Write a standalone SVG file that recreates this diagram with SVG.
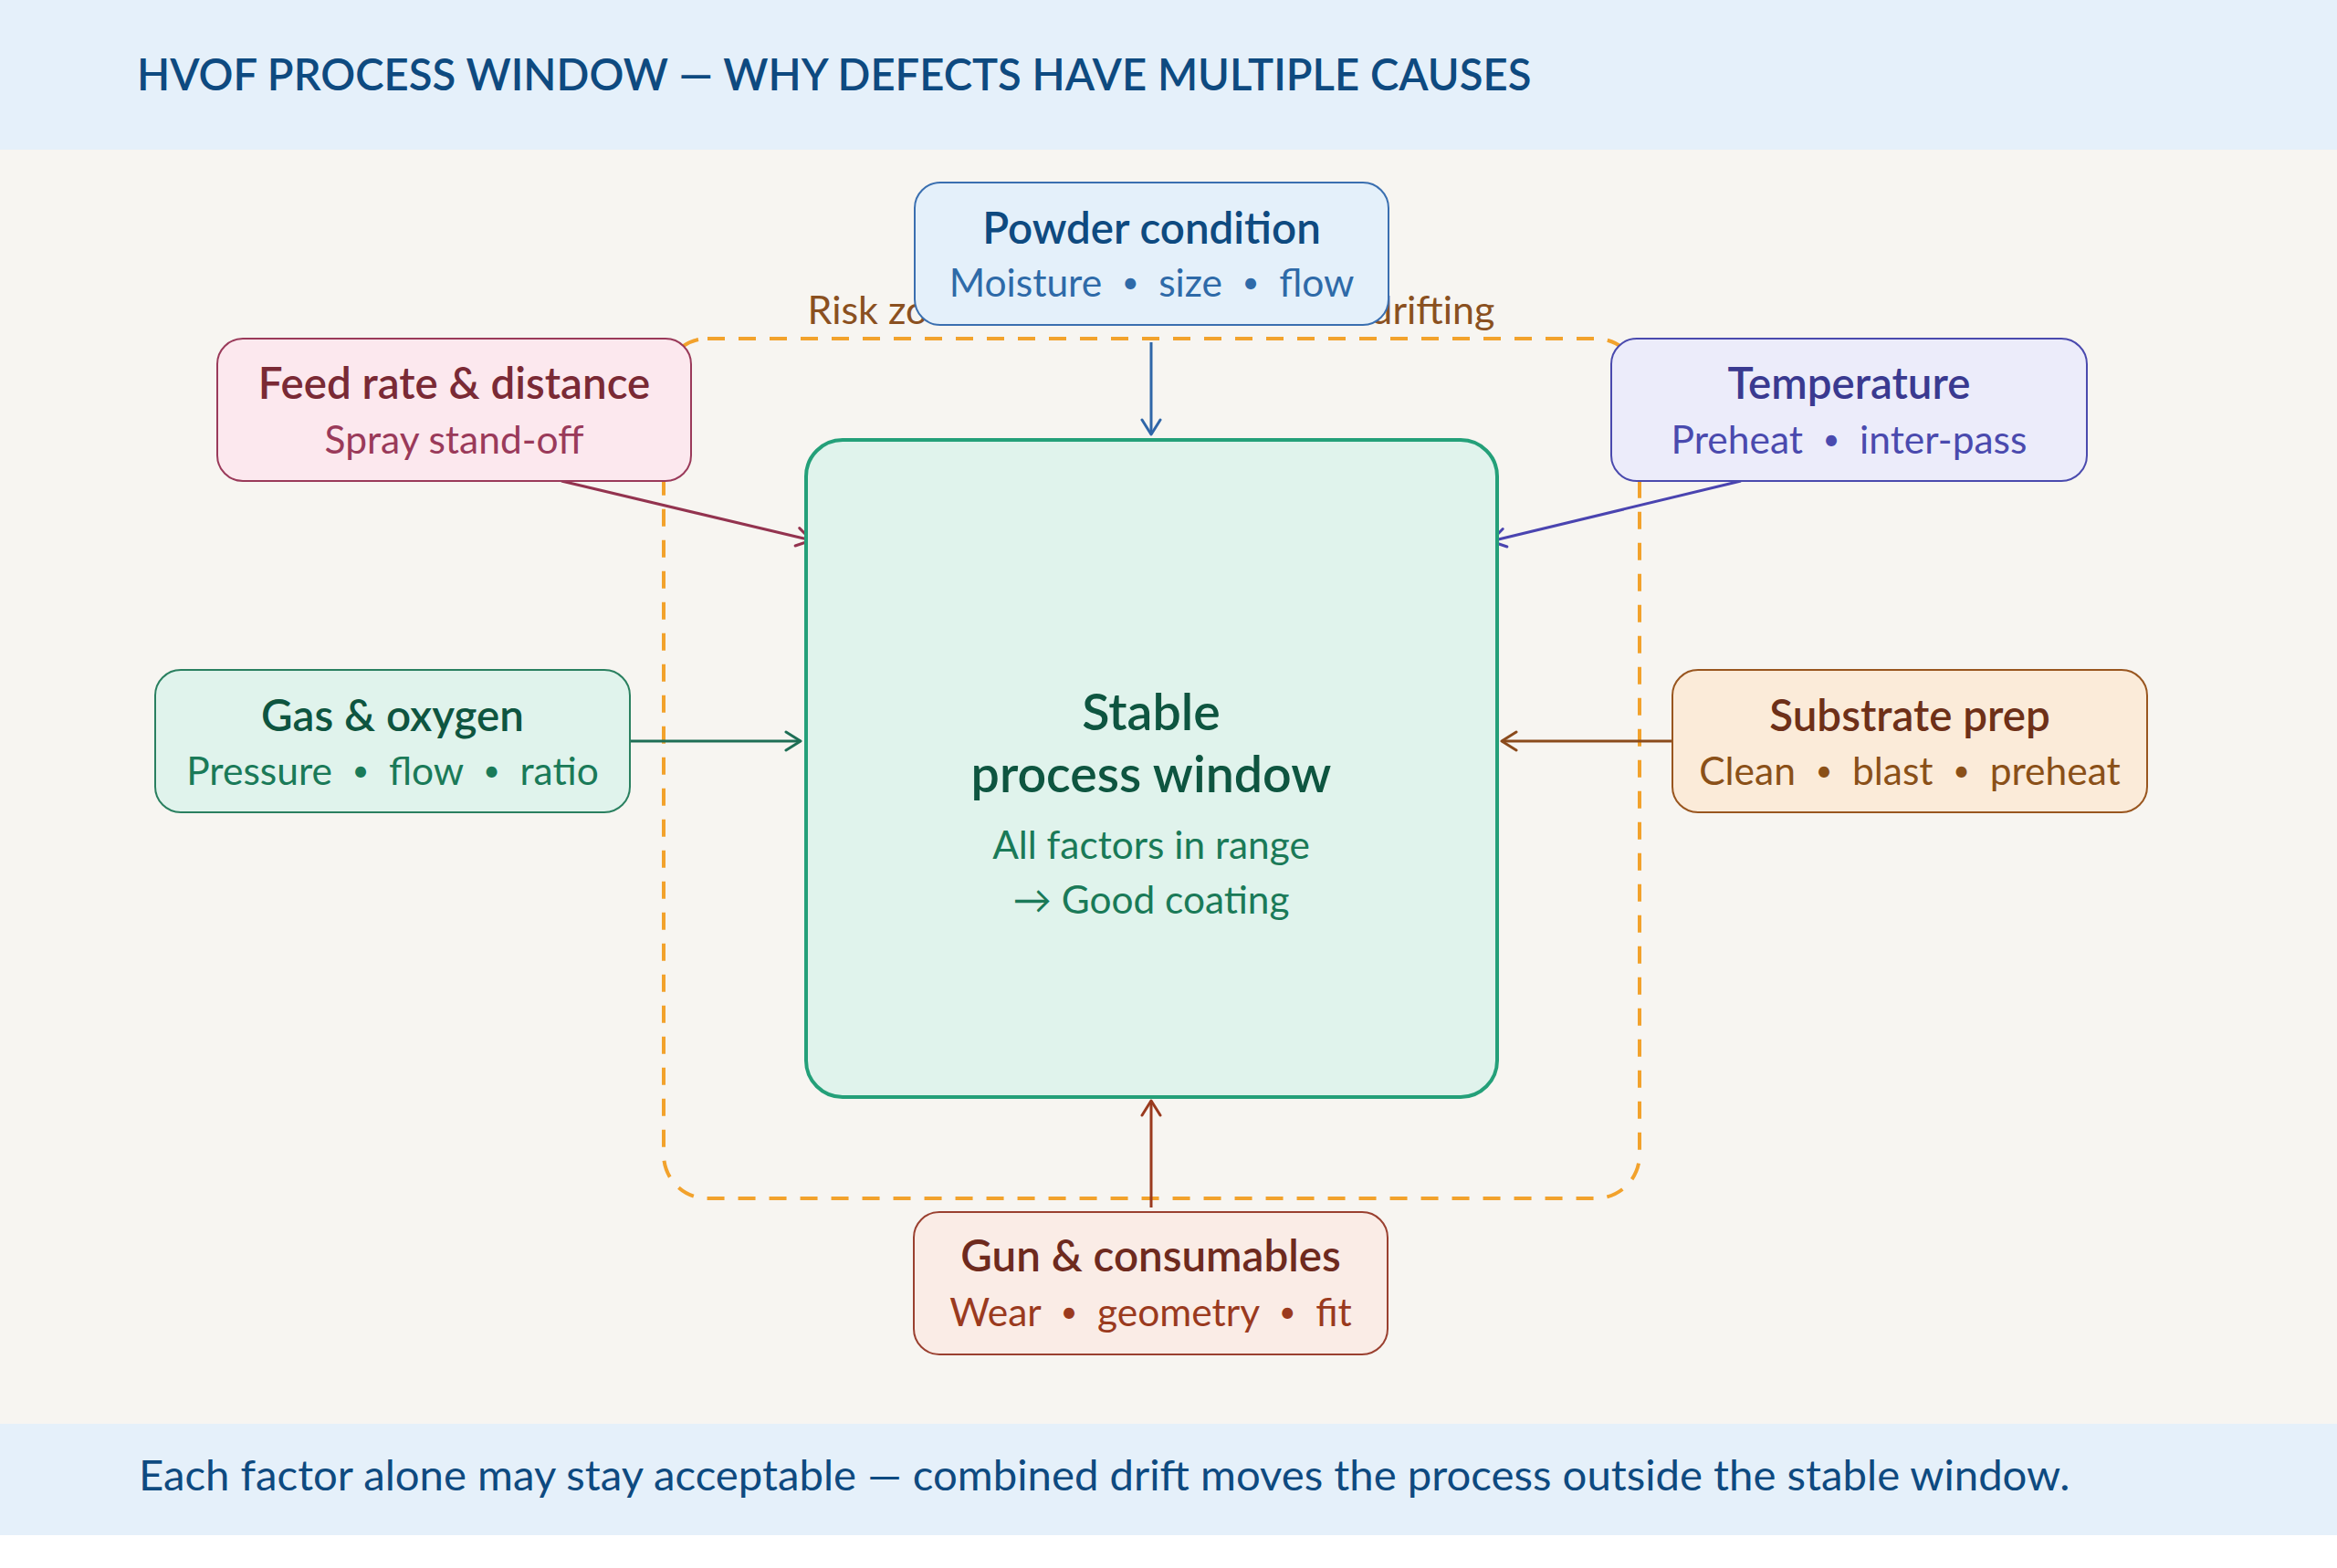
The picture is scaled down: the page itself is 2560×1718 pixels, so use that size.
<svg xmlns="http://www.w3.org/2000/svg" width="2560" height="1718" viewBox="0 0 2560 1718">
<defs>
<style>
text{font-family:Lato,"Noto Sans","Liberation Sans",sans-serif;text-anchor:middle;white-space:pre}
.nt{font-size:47.5px;font-weight:600}
.ns{font-size:42.5px;font-weight:400}
.b{font-size:32px;baseline-shift:4px}
.box{stroke-width:2}
.conn{fill:none;stroke-width:3}
.ah{fill:none;stroke-width:3;stroke-linecap:round;stroke-linejoin:round}
</style>
<marker id="mPow" viewBox="-18 -12 20 24" refX="0" refY="0" markerWidth="20" markerHeight="24" markerUnits="userSpaceOnUse" orient="auto"><path class="ah" d="M-16,-10 L0,0 L-16,10" stroke="#2F66A8"/></marker>
<marker id="mFeed" viewBox="-18 -12 20 24" refX="0" refY="0" markerWidth="20" markerHeight="24" markerUnits="userSpaceOnUse" orient="auto"><path class="ah" d="M-16,-10 L0,0 L-16,10" stroke="#93334F"/></marker>
<marker id="mTemp" viewBox="-18 -12 20 24" refX="0" refY="0" markerWidth="20" markerHeight="24" markerUnits="userSpaceOnUse" orient="auto"><path class="ah" d="M-16,-10 L0,0 L-16,10" stroke="#4A44B0"/></marker>
<marker id="mGas" viewBox="-18 -12 20 24" refX="0" refY="0" markerWidth="20" markerHeight="24" markerUnits="userSpaceOnUse" orient="auto"><path class="ah" d="M-16,-10 L0,0 L-16,10" stroke="#1E6E55"/></marker>
<marker id="mSub" viewBox="-18 -12 20 24" refX="0" refY="0" markerWidth="20" markerHeight="24" markerUnits="userSpaceOnUse" orient="auto"><path class="ah" d="M-16,-10 L0,0 L-16,10" stroke="#8A4A1C"/></marker>
<marker id="mGun" viewBox="-18 -12 20 24" refX="0" refY="0" markerWidth="20" markerHeight="24" markerUnits="userSpaceOnUse" orient="auto"><path class="ah" d="M-16,-10 L0,0 L-16,10" stroke="#9A3A1E"/></marker>
</defs>

<rect x="0" y="0" width="2560" height="1718" fill="#FFFFFF"/>
<rect x="0" y="0" width="2560" height="1682" fill="#F7F5F1"/>
<rect x="0" y="0" width="2560" height="164" fill="#E5F0FA"/>
<text x="150" y="99" style="text-anchor:start;font-size:47.2px;font-weight:600" fill="#0E4A80">HVOF PROCESS WINDOW — WHY DEFECTS HAVE MULTIPLE CAUSES</text>
<rect x="0" y="1560" width="2560" height="122" fill="#E5F0FA"/>
<text x="152" y="1633" style="text-anchor:start;font-size:47.3px" fill="#0E4A80">Each factor alone may stay acceptable — combined drift moves the process outside the stable window.</text>

<g id="risk-zone">
<rect x="727" y="371" width="1069" height="942" rx="48" fill="none" stroke="#F2A22C" stroke-width="4" stroke-dasharray="19 15"/>
<text x="1261" y="355" style="font-size:43px" fill="#8A5020">Risk zone — one or more factors drifting</text>
</g>

<g id="connectors">
<path class="conn" d="M1261,375 L1261,476" stroke="#2F66A8" marker-end="url(#mPow)"/>
<path class="conn" d="M615,527 L889,592" stroke="#93334F" marker-end="url(#mFeed)"/>
<path class="conn" d="M1907,527 L1633,593" stroke="#4A44B0" marker-end="url(#mTemp)"/>
<path class="conn" d="M690,812 L877,812" stroke="#1E6E55" marker-end="url(#mGas)"/>
<path class="conn" d="M1832,812 L1645,812" stroke="#8A4A1C" marker-end="url(#mSub)"/>
<path class="conn" d="M1261,1323 L1261,1206" stroke="#9A3A1E" marker-end="url(#mGun)"/>
</g>

<g id="center">
<rect x="883" y="482" width="757" height="720" rx="40" fill="#E0F3EC" stroke="#24A079" stroke-width="4"/>
<text x="1261" y="800" style="font-size:55.5px;font-weight:600" fill="#0E5540">Stable</text>
<text x="1261" y="868" style="font-size:55.5px;font-weight:600" fill="#0E5540">process window</text>
<text x="1261" y="941" style="font-size:42.4px" fill="#1A7A58">All factors in range</text>
<text x="1261" y="1001" style="font-size:42.4px" fill="#1A7A58">→ Good coating</text>
</g>

<g id="powder">
<rect class="box" x="1002" y="200" width="519" height="156" rx="28" fill="#E4F0FA" stroke="#3A6FB0"/>
<text class="nt" x="1261.5" y="267" fill="#0E4A80">Powder condition</text>
<text class="ns" x="1261.5" y="325" fill="#2E6AA8">Moisture  <tspan class="b">•</tspan>  size  <tspan class="b">•</tspan>  flow</text>
</g>

<g id="feed">
<rect class="box" x="238" y="371" width="519" height="156" rx="28" fill="#FCE8EE" stroke="#9A3A5A"/>
<text class="nt" x="497.5" y="437" fill="#7A2A35">Feed rate &amp; distance</text>
<text class="ns" x="497.5" y="497" fill="#9A3A5A">Spray stand-off</text>
</g>

<g id="temperature">
<rect class="box" x="1765" y="371" width="521" height="156" rx="28" fill="#ECECFA" stroke="#4A4AAE"/>
<text class="nt" x="2025.5" y="437" fill="#3A3A90">Temperature</text>
<text class="ns" x="2025.5" y="497" fill="#4A4AAE">Preheat  <tspan class="b">•</tspan>  inter-pass</text>
</g>

<g id="gas">
<rect class="box" x="170" y="734" width="520" height="156" rx="28" fill="#E0F3EC" stroke="#2A8060"/>
<text class="nt" x="430" y="801" fill="#0E5540">Gas &amp; oxygen</text>
<text class="ns" x="430" y="860" fill="#1A7A58">Pressure  <tspan class="b">•</tspan>  flow  <tspan class="b">•</tspan>  ratio</text>
</g>

<g id="substrate">
<rect class="box" x="1832" y="734" width="520" height="156" rx="28" fill="#FBEBD9" stroke="#99561F"/>
<text class="nt" x="2092" y="801" fill="#6E3018">Substrate prep</text>
<text class="ns" x="2092" y="860" fill="#8A5018">Clean  <tspan class="b">•</tspan>  blast  <tspan class="b">•</tspan>  preheat</text>
</g>

<g id="gun">
<rect class="box" x="1001" y="1328" width="519" height="156" rx="28" fill="#FAECE6" stroke="#9A4030"/>
<text class="nt" x="1260.5" y="1393" fill="#6E2A1E">Gun &amp; consumables</text>
<text class="ns" x="1260.5" y="1453" fill="#9A3A1E">Wear  <tspan class="b">•</tspan>  geometry  <tspan class="b">•</tspan>  fit</text>
</g>
</svg>
